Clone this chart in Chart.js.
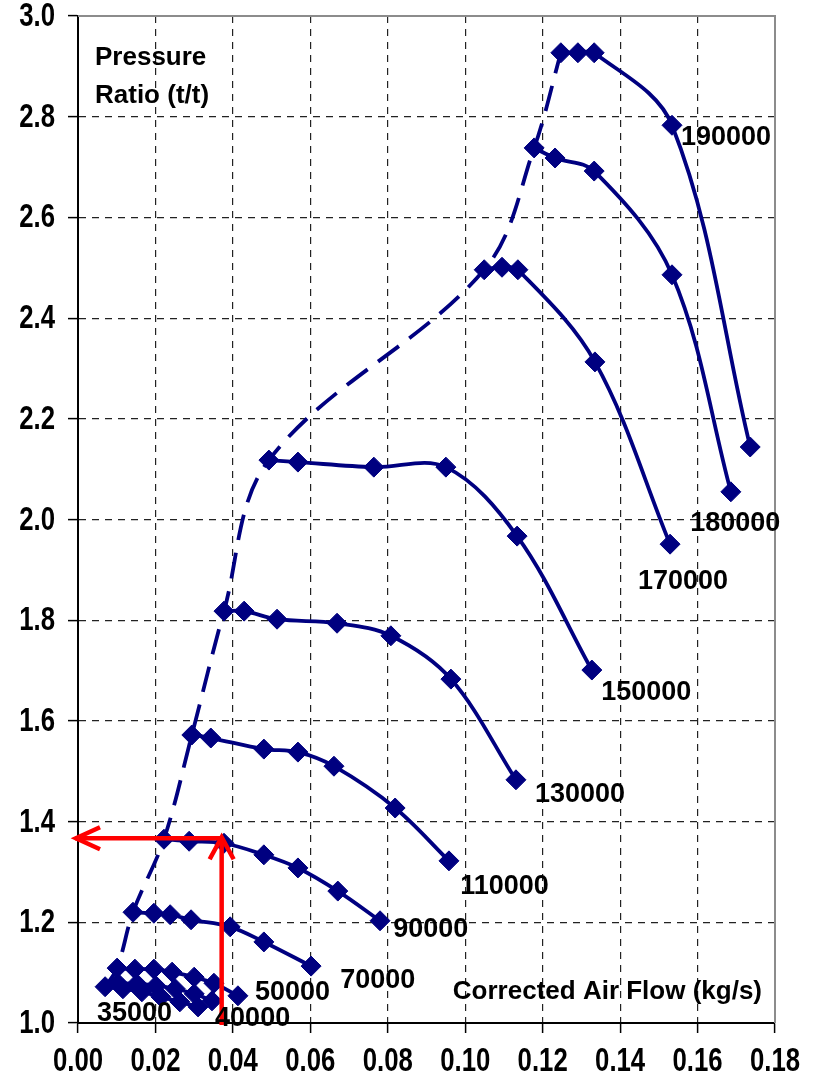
<!DOCTYPE html>
<html><head><meta charset="utf-8">
<script src="https://cdn.jsdelivr.net/npm/chart.js@4/dist/chart.umd.min.js"></script>
<style>html,body{margin:0;padding:0;background:#fff}#wrap{width:816px;height:1082px}</style>
</head><body><div id="wrap"><canvas id="c" width="816" height="1082"></canvas></div>
<script>
// ---- DATA ----
const speedNames = ['35000','40000','50000','70000','90000','110000','130000','150000','170000','180000','190000'];
const flow35000 = [0.0070, 0.0116, 0.0165, 0.0214, 0.0263, 0.0310];
const pr35000   = [1.072, 1.068, 1.062, 1.052, 1.042, 1.032];
const flow40000 = [0.0103, 0.0152, 0.0201, 0.0251, 0.0300, 0.0346];
const pr40000   = [1.079, 1.078, 1.074, 1.068, 1.058, 1.044];
const flow50000 = [0.0101, 0.0147, 0.0196, 0.0243, 0.0300, 0.0351, 0.0413];
const pr50000   = [1.109, 1.107, 1.107, 1.101, 1.091, 1.079, 1.054];
const flow70000 = [0.0142, 0.0196, 0.0238, 0.0292, 0.0393, 0.0480, 0.0602];
const pr70000   = [1.220, 1.218, 1.215, 1.205, 1.191, 1.161, 1.113];
const flow90000 = [0.0222, 0.0287, 0.0377, 0.0480, 0.0568, 0.0671, 0.0780];
const pr90000   = [1.365, 1.361, 1.357, 1.334, 1.308, 1.262, 1.203];
const flow110000 = [0.0294, 0.0343, 0.0480, 0.0568, 0.0661, 0.0819, 0.0958];
const pr110000   = [1.572, 1.566, 1.544, 1.538, 1.510, 1.427, 1.322];
const flow130000 = [0.0377, 0.0429, 0.0514, 0.0669, 0.0808, 0.0963, 0.1131];
const pr130000   = [1.818, 1.818, 1.802, 1.794, 1.769, 1.683, 1.483];
const flow150000 = [0.0493, 0.0568, 0.0764, 0.0950, 0.1134, 0.1327];
const pr150000   = [2.118, 2.114, 2.104, 2.104, 1.967, 1.701];
const flow170000 = [0.1049, 0.1095, 0.1136, 0.1335, 0.1529];
const pr170000   = [2.496, 2.501, 2.496, 2.313, 1.951];
const flow180000 = [0.1178, 0.1232, 0.1333, 0.1534, 0.1686];
const pr180000   = [2.738, 2.718, 2.692, 2.486, 2.055];
const flow190000 = [0.1247, 0.1291, 0.1333, 0.1534, 0.1736];
const pr190000   = [2.927, 2.927, 2.927, 2.783, 2.144];
// surge line (dashed), through the left-most point of each speed line
const surgeFlow = [0.0070, 0.0101, 0.0142, 0.0222, 0.0294, 0.0377, 0.0493, 0.1049, 0.1178, 0.1247];
const surgePR   = [1.072, 1.109, 1.220, 1.365, 1.572, 1.818, 2.118, 2.496, 2.738, 2.927];
// operating point marked by the red arrows
const opFlow = 0.0371;
const opPR = 1.367;
// axis ticks
const xMin = 0, xMax = 0.18, xStep = 0.02;
const yMin = 1.0, yMax = 3.0, yStep = 0.2;

// ---- label placement (annotation layout, not data) ----
const labelAnchors = {
  '35000':[0.0049,1.018], '40000':[0.0354,1.008], '50000':[0.0457,1.060], '70000':[0.0677,1.085],
  '90000':[0.0814,1.185], '110000':[0.0987,1.272], '130000':[0.1180,1.453], '150000':[0.1351,1.657],
  '170000':[0.1446,1.876], '180000':[0.1581,1.991], '190000':[0.1557,2.758]
};

const series = {
  '35000':[flow35000,pr35000], '40000':[flow40000,pr40000], '50000':[flow50000,pr50000],
  '70000':[flow70000,pr70000], '90000':[flow90000,pr90000], '110000':[flow110000,pr110000],
  '130000':[flow130000,pr130000], '150000':[flow150000,pr150000], '170000':[flow170000,pr170000],
  '180000':[flow180000,pr180000], '190000':[flow190000,pr190000]
};
const zip = (xs, ys) => xs.map((x,i)=>({x, y: ys[i]}));
const NAVY = '#000080';
const FONT = "'Liberation Sans', Arial, sans-serif";

const datasets = speedNames.map(n => ({
  label: n,
  data: zip(series[n][0], series[n][1]),
  showLine: true,
  borderColor: NAVY,
  borderWidth: 3.8,
  tension: 0.35,
  pointStyle: 'rectRot',
  pointRadius: 10,
  pointBackgroundColor: NAVY,
  pointBorderColor: NAVY,
  pointBorderWidth: 1
}));
datasets.push({
  label: 'surge',
  data: zip(surgeFlow, surgePR),
  showLine: true,
  borderColor: NAVY,
  borderWidth: 3.8,
  borderDash: [26, 13],
  tension: 0.35,
  pointRadius: 0
});

const overlay = {
  id: 'overlay',
  afterDatasetsDraw(chart) {
    const {ctx, chartArea: a, scales: {x, y}} = chart;
    ctx.save();
    // top and right frame
    ctx.strokeStyle = '#8c8c8c';
    ctx.lineWidth = 2;
    ctx.beginPath();
    ctx.moveTo(a.left, a.top); ctx.lineTo(a.right, a.top); ctx.lineTo(a.right, a.bottom);
    ctx.stroke();
    // red arrows
    const px = x.getPixelForValue(opFlow), py = y.getPixelForValue(opPR);
    const x0 = x.getPixelForValue(0) - 3, y0 = y.getPixelForValue(1.0) + 2;
    ctx.strokeStyle = '#ff0000';
    ctx.lineWidth = 4.5;
    ctx.lineCap = 'butt';
    ctx.lineJoin = 'miter';
    ctx.beginPath();
    ctx.moveTo(px, py); ctx.lineTo(x0, py);
    ctx.moveTo(px, y0); ctx.lineTo(px, py);
    ctx.stroke();
    ctx.beginPath();
    ctx.moveTo(x0 + 25, py - 11); ctx.lineTo(x0 + 1, py); ctx.lineTo(x0 + 25, py + 11);
    ctx.moveTo(px - 12, py + 21); ctx.lineTo(px, py - 1); ctx.lineTo(px + 12, py + 21);
    ctx.stroke();
    // speed labels
    ctx.fillStyle = '#000';
    ctx.font = 'bold 27px ' + FONT;
    ctx.textAlign = 'left';
    ctx.textBaseline = 'middle';
    speedNames.forEach(n => {
      const [lx, ly] = labelAnchors[n];
      ctx.fillText(n, x.getPixelForValue(lx), y.getPixelForValue(ly));
    });
    // axis titles placed inside the plot
    ctx.font = 'bold 26px ' + FONT;
    ctx.fillText('Pressure', a.left + 17, a.top + 42);
    ctx.fillText('Ratio (t/t)', a.left + 17, a.top + 80);
    ctx.textAlign = 'right';
    ctx.fillText('Corrected Air Flow (kg/s)', a.right - 13, a.bottom - 31);
    // tick labels (bold, horizontally condensed as in the original), from the scales' own ticks
    ctx.font = 'bold 33px ' + FONT;
    ctx.textBaseline = 'middle';
    ctx.textAlign = 'center';
    x.ticks.forEach(t => {
      ctx.save();
      ctx.translate(x.getPixelForValue(t.value), a.bottom + 39);
      ctx.scale(0.78, 1);
      ctx.fillText(t.value.toFixed(2), 0, 0);
      ctx.restore();
    });
    ctx.textAlign = 'right';
    y.ticks.forEach(t => {
      ctx.save();
      ctx.translate(a.left - 23, y.getPixelForValue(t.value) + 1);
      ctx.scale(0.78, 1);
      ctx.fillText(t.value.toFixed(1), 0, 0);
      ctx.restore();
    });
    ctx.restore();
  }
};

new Chart(document.getElementById('c'), {
  type: 'scatter',
  data: { datasets },
  options: {
    responsive: false,
    animation: false,
    devicePixelRatio: 1,
    layout: { padding: { top: 16, right: 41, left: 0, bottom: 0 } },
    plugins: { legend: { display: false }, tooltip: { enabled: false } },
    scales: {
      x: {
        type: 'linear', min: xMin, max: xMax,
        afterFit(s) { s.height = 59; s.paddingLeft = 0; s.paddingRight = 0; },
        ticks: { stepSize: xStep, autoSkip: false, maxRotation: 0, display: false },
        grid: {
          color: c => (c.tick && c.tick.value > xMax - 1e-9) ? 'rgba(0,0,0,0)' : '#222',
          lineWidth: 1.2, tickLength: 10, tickColor: '#000', tickWidth: 1.5, tickBorderDash: []
        },
        border: { display: true, color: '#000', width: 2, dash: [7, 6] }
      },
      y: {
        type: 'linear', min: yMin, max: yMax,
        afterFit(s) { s.width = 78; s.paddingTop = 0; s.paddingBottom = 0; },
        ticks: { stepSize: yStep, display: false },
        grid: {
          color: c => (c.tick && c.tick.value > yMax - 1e-9) ? 'rgba(0,0,0,0)' : '#222',
          lineWidth: 1.2, tickLength: 10, tickColor: '#000', tickWidth: 1.5, tickBorderDash: []
        },
        border: { display: true, color: '#000', width: 2, dash: [7, 6] }
      }
    }
  },
  plugins: [overlay]
});
</script>
</body></html>
